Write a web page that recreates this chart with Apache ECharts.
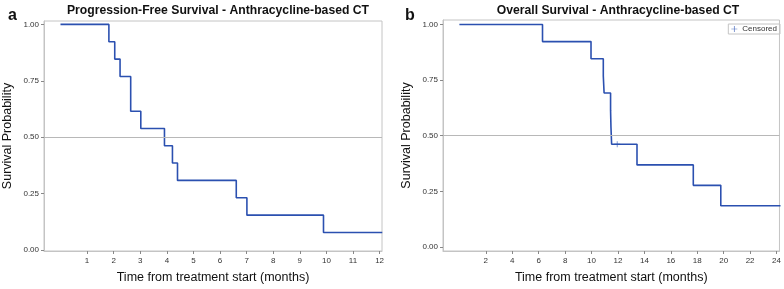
<!DOCTYPE html>
<html>
<head>
<meta charset="utf-8">
<script src="https://cdn.jsdelivr.net/npm/echarts@6/dist/echarts.min.js"></script>
<style>
    html, body { margin: 0; padding: 0; background: #fff; }
    #km { width: 784px; height: 289px; }
</style>
</head>
<body>
<div id="km"></div>
<script>
    // panel a - progression-free survival (time in months, survival prob)
    var pfsTime = [0, 1.82, 2.04, 2.24, 2.64, 3.02, 3.91, 4.21, 4.40, 6.61, 7.01, 9.89, 12.1];
    var pfsSurv = [1.00, 0.923, 0.846, 0.769, 0.615, 0.538, 0.462, 0.385, 0.308, 0.231, 0.154, 0.077, 0.077];

    // panel b - overall survival
    var osTime = [0, 6.29, 9.96, 10.89, 10.95, 11.44, 11.47, 11.52, 13.44, 17.70, 19.78, 24.3];
    var osSurv = [1.00, 0.923, 0.846, 0.769, 0.692, 0.615, 0.538, 0.462, 0.369, 0.277, 0.185, 0.185];
    var osCensTime = [11.94];
    var osCensSurv = [0.462];

    var yTicks = [0, 0.25, 0.5, 0.75, 1];
    var pfsTicks = [1, 2, 3, 4, 5, 6, 7, 8, 9, 10, 11, 12];
    var osTicks = [2, 4, 6, 8, 10, 12, 14, 16, 18, 20, 22, 24];

    var blue = '#2b50b0';
    var frame = '#c4c4c4';
    var font = 'Liberation Sans, Arial, sans-serif';
    var plus = 'path://M4.4,0h1.2v10h-1.2z M0,4.4h10v1.2h-10z';

    function pairs(xs, ys) {
        return xs.map(function (x, i) { return [x, ys[i]]; });
    }

    function xAxisOf(idx, min, max, ticks) {
        return {
            type: 'value', gridIndex: idx, min: min, max: max,
            name: 'Time from treatment start (months)',
            nameLocation: 'middle', nameGap: 20,
            nameTextStyle: { fontSize: 12.5, color: '#111', fontFamily: font },
            splitLine: { show: false },
            axisLine: { onZero: false, lineStyle: { color: frame } },
            axisTick: { customValues: ticks, length: 3, lineStyle: { color: '#888' } },
            axisLabel: { customValues: ticks, fontSize: 8, color: '#333', fontFamily: font, margin: 6 }
        };
    }

    function yAxisOf(idx, min, max) {
        return {
            type: 'value', gridIndex: idx, min: min, max: max,
            name: 'Survival Probability',
            nameLocation: 'middle', nameGap: 30, nameRotate: 90,
            nameTextStyle: { fontSize: 12.5, color: '#111', fontFamily: font },
            splitLine: { show: false },
            axisLine: { show: true, onZero: false, lineStyle: { color: frame } },
            axisTick: { show: true, customValues: yTicks, length: 3, lineStyle: { color: '#888' } },
            axisLabel: {
                customValues: yTicks, fontSize: 8, color: '#333', fontFamily: font, margin: 5,
                formatter: function (v) { return v.toFixed(2); }
            }
        };
    }

    var refLine = {
        silent: true, symbol: 'none', label: { show: false },
        lineStyle: { color: '#b8b8b8', type: 'solid', width: 1 },
        data: [{ yAxis: 0.5 }]
    };

    var chart = echarts.init(document.getElementById('km'));
    chart.setOption({
        animation: false,
        title: [
            { text: 'Progression-Free Survival - Anthracycline-based CT', left: 213, top: 0, textAlign: 'center',
              textStyle: { fontSize: 12.2, fontWeight: 'bold', color: '#111', fontFamily: font } },
            { text: 'Overall Survival - Anthracycline-based CT', left: 613, top: 0, textAlign: 'center',
              textStyle: { fontSize: 12.2, fontWeight: 'bold', color: '#111', fontFamily: font } },
            { text: 'a', left: 3, top: 3, textStyle: { fontSize: 16, fontWeight: 'bold', color: '#111', fontFamily: font } },
            { text: 'b', left: 400, top: 3, textStyle: { fontSize: 16, fontWeight: 'bold', color: '#111', fontFamily: font } }
        ],
        legend: {
            data: [{ name: 'Censored', icon: plus }],
            right: 4, top: 24, itemWidth: 6, itemHeight: 6, itemGap: 4,
            padding: [1, 3, 1, 3],
            borderColor: frame, borderWidth: 1,
            textStyle: { fontSize: 8, color: '#333', fontFamily: font }
        },
        grid: [
            { left: 44, right: 402, top: 21, bottom: 35, show: true, borderColor: frame, borderWidth: 1 },
            { left: 443, right: 1, top: 20, bottom: 35, show: true, borderColor: frame, borderWidth: 1 }
        ],
        xAxis: [xAxisOf(0, -0.62, 12.09, pfsTicks), xAxisOf(1, -1.24, 24.22, osTicks)],
        yAxis: [yAxisOf(0, -0.005, 1.015), yAxisOf(1, -0.018, 1.02)],
        series: [
            {
                type: 'line', xAxisIndex: 0, yAxisIndex: 0, step: 'end', symbol: 'none',
                data: pairs(pfsTime, pfsSurv), lineStyle: { color: blue, width: 1.6 },
                markLine: refLine, z: 3
            },
            {
                type: 'line', xAxisIndex: 1, yAxisIndex: 1, step: 'end', symbol: 'none',
                data: pairs(osTime, osSurv), lineStyle: { color: blue, width: 1.6 },
                markLine: refLine, z: 3
            },
            {
                name: 'Censored', type: 'scatter', xAxisIndex: 1, yAxisIndex: 1,
                symbol: plus, symbolSize: 6, itemStyle: { color: blue },
                data: pairs(osCensTime, osCensSurv), z: 4
            }
        ]
    });
</script>
</body>
</html>
